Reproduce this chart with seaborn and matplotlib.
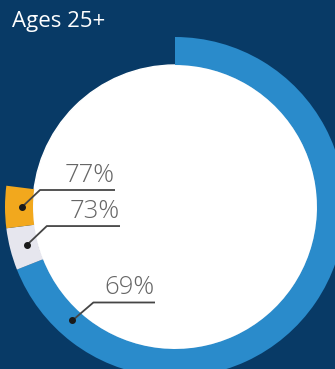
import numpy as np
import matplotlib
matplotlib.use("Agg")
import matplotlib.pyplot as plt
import seaborn as sns

# ---- data ----
labels = ["69%", "73%", "77%"]
values = [69, 73, 77]          # cumulative percentages
colors = ["#2a8bcb", "#e6e6ee", "#f2a81d"]
subtitle = "Ages 25+"

sns.set_theme(style="white")
plt.rcParams["font.family"] = ["Open Sans", "DejaVu Sans"]

BG = "#083a66"
W, H = 335, 369
fig = plt.figure(figsize=(W / 100, H / 100), dpi=100, facecolor=BG)
ax = fig.add_axes([0, 0, 1, 1])
ax.set_facecolor(BG)

cx, cy = 175, H - 207
r_out, r_in = 170, 142

# white inner disk
ax.add_patch(plt.Circle((cx, cy), r_in, color="white", zorder=1))

# ring segments: increments between cumulative values
incr = np.diff([0] + values).tolist()
rest = 100 - values[-1]
wedges, _ = ax.pie(incr + [rest], colors=colors + ["none"], startangle=90,
                   counterclock=False, center=(cx, cy), radius=r_out,
                   wedgeprops=dict(width=r_out - r_in, linewidth=0))
for w in wedges:
    w.set_zorder(2)

ax.set_xlim(0, W)
ax.set_ylim(0, H)
ax.set_aspect("equal")
ax.axis("off")

# annotations: (fraction along ring for dot, elbow offset, line end x)
r_dot = 153
ann = {
    "69%": (0.617, (21, 18), 155),
    "73%": ((values[0] + values[1]) / 200, (20, 19), 120),
    "77%": ((values[1] + values[2]) / 200, (18, 17), 115),
}
for lab in labels:
    frac, (ex, ey), xend = ann[lab]
    ang = np.deg2rad(90 - frac * 360)
    dx, dy = cx + r_dot * np.cos(ang), cy + r_dot * np.sin(ang)
    elx, ely = dx + ex, dy + ey
    ax.plot([dx, elx, xend], [dy, ely, ely], color="#454545", lw=1.3,
            zorder=4, solid_capstyle="butt")
    ax.plot([dx], [dy], "o", color="#1a1a1a", ms=4, zorder=5)
    ax.text(xend, ely + 2, lab, ha="right", va="bottom", fontsize=18.5,
            color="#666666", fontweight="light", zorder=5)

fig.text(12 / W, 1 - 27 / H, subtitle, color="white", fontsize=16,
         ha="left", va="baseline")

fig.savefig("out.png", dpi=100, facecolor=BG)
